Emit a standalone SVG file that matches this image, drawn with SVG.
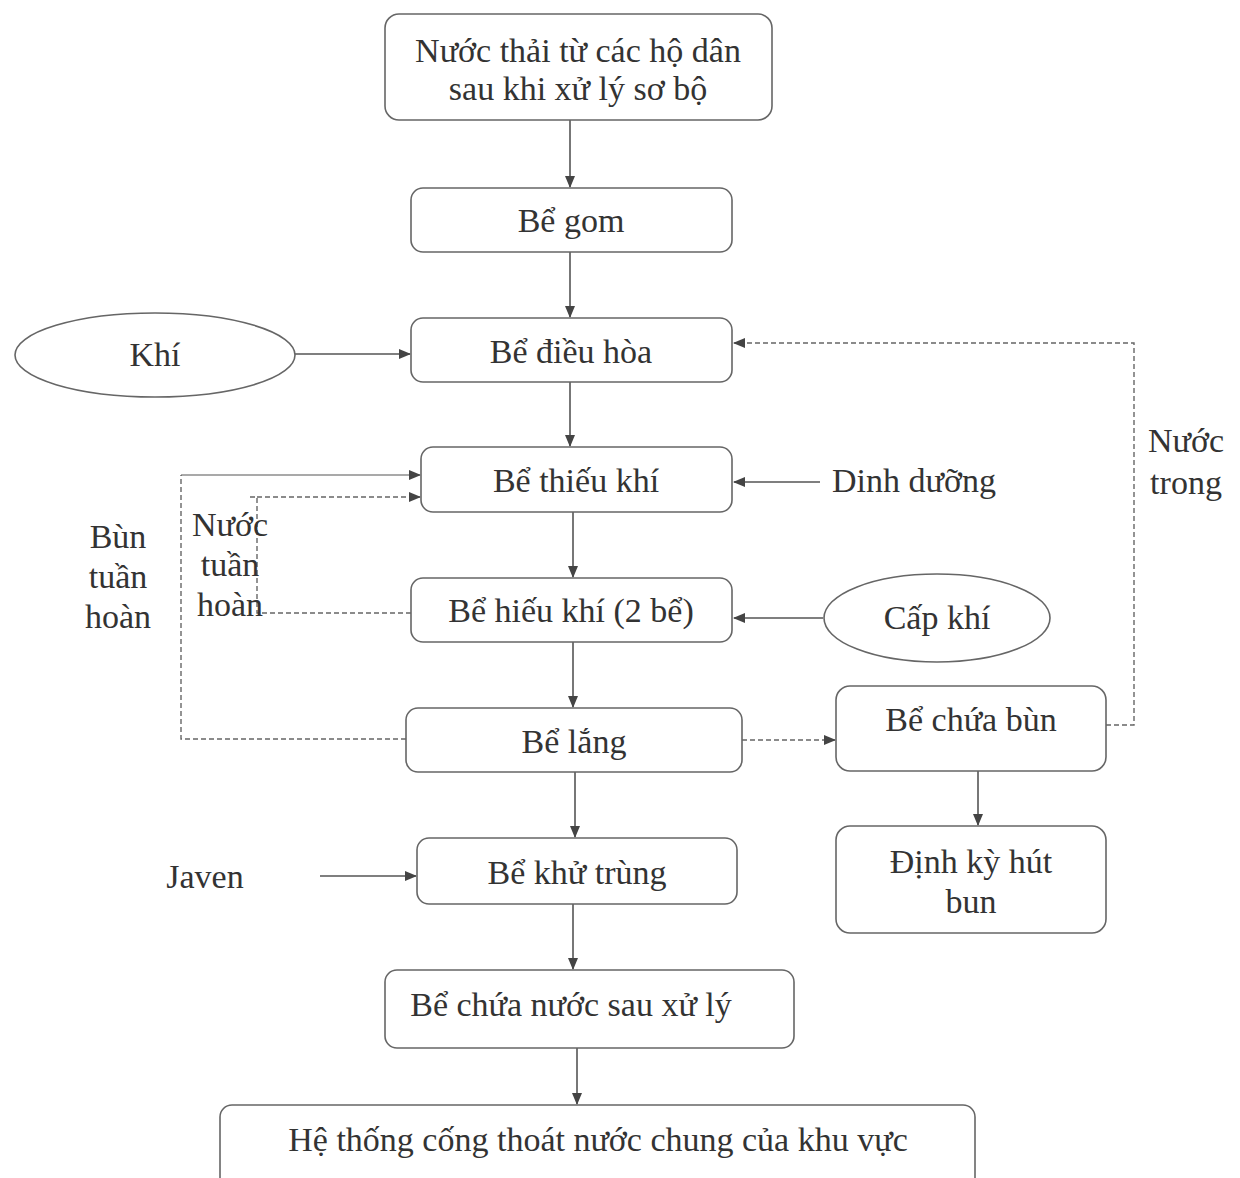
<svg xmlns="http://www.w3.org/2000/svg" width="1240" height="1178" viewBox="0 0 1240 1178">
<defs>
<style>
.box{fill:#fff;stroke:#666;stroke-width:1.6}
.t{font-family:"Liberation Serif","Times New Roman",serif;font-size:34px;fill:#333;text-anchor:middle}
.c{fill:none;stroke:#555;stroke-width:1.6}
.d{fill:none;stroke:#666;stroke-width:1.4;stroke-dasharray:5 3}
</style>
<marker id="ah" markerWidth="12" markerHeight="10" refX="11" refY="5" orient="auto" markerUnits="userSpaceOnUse">
<path d="M0,0 L12,5 L0,10 z" fill="#444"/>
</marker>
</defs>
<rect width="1240" height="1178" fill="#fff"/>

<g id="connectors">
<line class="c" x1="570" y1="120" x2="570" y2="187" marker-end="url(#ah)"/>
<line class="c" x1="570" y1="252" x2="570" y2="317" marker-end="url(#ah)"/>
<line class="c" x1="570" y1="382" x2="570" y2="446" marker-end="url(#ah)"/>
<line class="c" x1="573" y1="512" x2="573" y2="577" marker-end="url(#ah)"/>
<line class="c" x1="573" y1="642" x2="573" y2="707" marker-end="url(#ah)"/>
<line class="c" x1="575" y1="772" x2="575" y2="837" marker-end="url(#ah)"/>
<line class="c" x1="573" y1="904" x2="573" y2="969" marker-end="url(#ah)"/>
<line class="c" x1="577" y1="1048" x2="577" y2="1104" marker-end="url(#ah)"/>
<line class="c" x1="978" y1="771" x2="978" y2="825" marker-end="url(#ah)"/>
<line class="c" x1="295" y1="354" x2="410" y2="354" marker-end="url(#ah)"/>
<line class="c" x1="820" y1="482" x2="734" y2="482" marker-end="url(#ah)"/>
<line class="c" x1="823" y1="618" x2="734" y2="618" marker-end="url(#ah)"/>
<line class="c" x1="320" y1="876" x2="416" y2="876" marker-end="url(#ah)"/>
<polyline class="d" points="406,739 181,739 181,475"/>
<line class="c" x1="181" y1="475" x2="420" y2="475" marker-end="url(#ah)" style="stroke-width:1.2"/>
<polyline class="d" points="411,613 257,613 257,497 248,497"/>
<line class="d" x1="257" y1="497" x2="420" y2="497" marker-end="url(#ah)"/>
<line class="d" x1="742" y1="740" x2="835" y2="740" marker-end="url(#ah)"/>
<polyline class="d" points="1106,725 1134,725 1134,343 734,343" marker-end="url(#ah)"/>
</g>

<g id="n1"><rect class="box" x="385" y="14" width="387" height="106" rx="14"/>
<text class="t" x="578" y="62">Nước thải từ các hộ dân</text>
<text class="t" x="578" y="100">sau khi xử lý sơ bộ</text></g>
<g id="n2"><rect class="box" x="411" y="188" width="321" height="64" rx="12"/>
<text class="t" x="571" y="232">Bể gom</text></g>
<g id="n3"><rect class="box" x="411" y="318" width="321" height="64" rx="12"/>
<text class="t" x="571" y="363">Bể điều hòa</text></g>
<g id="khi"><ellipse class="box" cx="155" cy="355" rx="140" ry="42"/>
<text class="t" x="155" y="366">Khí</text></g>
<g id="n4"><rect class="box" x="421" y="447" width="311" height="65" rx="12"/>
<text class="t" x="576" y="492">Bể thiếu khí</text></g>
<g id="dinhduong"><text class="t" x="914" y="492">Dinh dưỡng</text></g>
<g id="n5"><rect class="box" x="411" y="578" width="321" height="64" rx="12"/>
<text class="t" x="571" y="622">Bể hiếu khí (2 bể)</text></g>
<g id="capkhi"><ellipse class="box" cx="937" cy="618" rx="113" ry="44"/>
<text class="t" x="937" y="629">Cấp khí</text></g>
<g id="n6"><rect class="box" x="406" y="708" width="336" height="64" rx="12"/>
<text class="t" x="574" y="753">Bể lắng</text></g>
<g id="n7"><rect class="box" x="836" y="686" width="270" height="85" rx="14"/>
<text class="t" x="971" y="731">Bể chứa bùn</text></g>
<g id="n8"><rect class="box" x="836" y="826" width="270" height="107" rx="14"/>
<text class="t" x="971" y="873">Định kỳ hút</text>
<text class="t" x="971" y="913">bun</text></g>
<g id="n9"><rect class="box" x="417" y="838" width="320" height="66" rx="12"/>
<text class="t" x="577" y="884">Bể khử trùng</text></g>
<g id="javen"><text class="t" x="205" y="888">Javen</text></g>
<g id="n10"><rect class="box" x="385" y="970" width="409" height="78" rx="12"/>
<text class="t" x="571" y="1016">Bể chứa nước sau xử lý</text></g>
<g id="n11"><rect class="box" x="220" y="1105" width="755" height="90" rx="12"/>
<text class="t" x="598" y="1151">Hệ thống cống thoát nước chung của khu vực</text></g>
<g id="labels">
<text class="t" x="118" y="548">Bùn</text>
<text class="t" x="118" y="588">tuần</text>
<text class="t" x="118" y="628">hoàn</text>
<text class="t" x="230" y="536">Nước</text>
<text class="t" x="230" y="576">tuần</text>
<text class="t" x="230" y="616">hoàn</text>
<text class="t" x="1186" y="452">Nước</text>
<text class="t" x="1186" y="494">trong</text>
</g>
</svg>
